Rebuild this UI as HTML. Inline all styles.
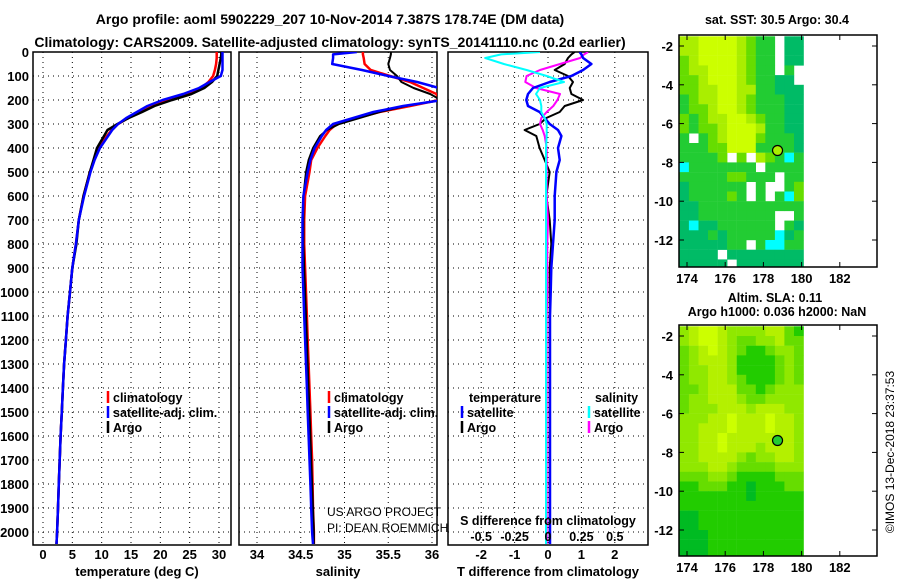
<!DOCTYPE html>
<html><head><meta charset="utf-8"><style>
html,body{margin:0;padding:0;background:#fff;}
svg{display:block;font-family:"Liberation Sans",sans-serif;}
</style></head><body>
<svg id="c" width="900" height="580" viewBox="0 0 900 580" xmlns="http://www.w3.org/2000/svg">
<defs>
<clipPath id="cp1"><rect x="33" y="52" width="198" height="493"/></clipPath>
<clipPath id="cp2"><rect x="239" y="52" width="198" height="493"/></clipPath>
<clipPath id="cp3"><rect x="448" y="52" width="200" height="493"/></clipPath>
<clipPath id="cm1"><rect x="679" y="35" width="198" height="232"/></clipPath>
<clipPath id="cm2"><rect x="679" y="325" width="198" height="231"/></clipPath>
</defs>
<g font-weight="bold" font-size="14">
<text x="330" y="24" text-anchor="middle">Argo profile: aoml 5902229_207 10-Nov-2014 7.387S 178.74E (DM data)</text>
<text x="330" y="47" text-anchor="middle">Climatology: CARS2009. Satellite-adjusted climatology: synTS_20141110.nc (0.2d earlier)</text>
</g>
<g id="root"></g>
</svg>
<script>
const NS="http://www.w3.org/2000/svg";
const depths=[0,10,25,50,75,100,125,150,175,200,225,250,275,300,325,350,400,450,500,600,700,800,900,1000,1100,1200,1300,1400,1500,1600,1700,1800,1900,2000,2050];
const tClim=[29.6,29.6,29.6,29.5,29.3,29,28.2,27,24.5,21,18.5,16.5,14.5,12.8,11.7,10.9,9.5,8.7,8.0,6.9,6.1,5.6,5.0,4.6,4.2,3.9,3.6,3.4,3.2,3.0,2.85,2.7,2.55,2.4,2.3];
const tSat=[30.6,30.6,30.6,30.6,30.6,30.3,28.4,26.6,23.9,20.4,17.8,16.0,14.2,12.8,11.8,11.1,9.7,8.8,8.1,7.0,6.1,5.6,5.0,4.6,4.2,3.9,3.6,3.4,3.2,3.0,2.85,2.7,2.55,2.4,2.3];
const tArgo=[30.4,30.4,30.3,30.1,29.9,29.7,28.8,27.5,25.3,22.0,19.0,16.9,14.6,12.7,11.0,10.4,9.2,8.6,8.0,6.9,6.1,5.7,5.0,4.6,4.2,3.9,3.6,3.4,3.2,3.0,2.85,2.7,2.55,2.4,2.3];
const sClim=[35.21,35.21,35.22,35.23,35.3,35.52,35.75,35.9,36.05,36.08,35.75,35.4,35.14,34.91,34.83,34.78,34.69,34.62,34.6,34.55,34.54,34.54,34.55,34.56,34.57,34.58,34.59,34.6,34.61,34.62,34.63,34.635,34.64,34.65,34.65];
const sSat=[35.14,34.87,34.87,34.86,35.2,35.5,35.83,36.08,36.15,36.12,35.67,35.33,35.1,34.87,34.79,34.74,34.66,34.61,34.58,34.53,34.52,34.52,34.52,34.53,34.54,34.55,34.56,34.57,34.58,34.59,34.6,34.61,34.62,34.63,34.64];
const sArgo=[35.53,35.53,35.52,35.5,35.52,35.6,35.65,35.79,35.98,36.1,35.7,35.4,35.17,34.94,34.8,34.72,34.64,34.59,34.56,34.53,34.53,34.53,34.54,34.55,34.56,34.57,34.58,34.59,34.6,34.61,34.62,34.63,34.64,34.65,34.65];
const dTArgo=[0.8,0.7,0.6,0.5,0.2,0.6,0.75,0.65,0.7,1.05,0.5,0.35,-0.05,-0.25,-0.7,-0.35,-0.25,-0.1,0.05,-0.05,0.05,0.1,0.05,0.05,0.05,0.05,0.05,0.05,0.05,0.05,0.05,0.05,0.05,0.05,0.05];
const dTSat=[0.95,1.0,1.05,1.3,1.05,0.7,0.05,-0.45,-0.6,-0.65,-0.6,-0.25,-0.1,0.05,0.3,0.4,0.3,0.35,0.25,0.2,0.2,0.15,0.1,0.08,0.06,0.06,0.06,0.06,0.06,0.06,0.06,0.06,0.06,0.06,0.06];
const dSArgo=[0.3,0.27,0.24,0.09,-0.06,-0.16,-0.17,-0.09,0.09,0.07,0.04,-0.01,-0.05,-0.06,-0.04,-0.025,-0.01,-0.01,-0.01,-0.01,0,-0.005,-0.005,-0.005,-0.01,-0.01,-0.01,-0.01,-0.01,-0.01,-0.01,-0.01,-0.01,-0.01,-0.01];
const dSSat=[-0.06,-0.35,-0.47,-0.33,-0.16,-0.01,0.12,-0.06,-0.09,-0.06,-0.05,-0.05,-0.025,-0.01,-0.01,-0.01,-0.015,-0.015,-0.015,-0.015,-0.015,-0.015,-0.015,-0.015,-0.015,-0.015,-0.015,-0.015,-0.015,-0.015,-0.015,-0.015,-0.015,-0.015,-0.015];
const depthTicks=[0,100,200,300,400,500,600,700,800,900,1000,1100,1200,1300,1400,1500,1600,1700,1800,1900,2000];
const tTicks=[0,5,10,15,20,25,30];
const sTicks=[34,34.5,35,35.5,36];
const sTickLabels=["34","34.5","35","35.5","36"];
const dTTicks=[-2,-1,0,1,2];
const dSTicks=[-0.5,-0.25,0,0.25,0.5];
const dSTickLabels=["-0.5","-0.25","0","0.25","0.5"];
const sstRows=["4455554322w11","4455554322w11","3455554322w11","3445554322w2w","334555432211w","3344554422111","2344554322211","2334554322211","3234455432211","3233455542211","2w23455532221","2223355522221","22223w3w432c2","c2222222w2222","2222233222w22","1222222w2ww23","1222232w2w2c3","1122222222222","1122222222ww2","1c11222222w21","1112122222c12","1111122w2cc22","1111w11111111","11111w1111111"];
const slaRows=["3455433334421","3455432233422","2345432112332","2344431111232","2334431111232","2334432111232","2234442212333","2334443223333","2333444344433","3334454445443","3344454445443","3344544444443","3344544434443","3344443233443","3334432222333","2223321111222","1122211011122","1111111011111","1111111111111","0011111111111","0011111111111","0001111111111","0001111111111","0001111111111"];
const lonTicks=[174,176,178,180,182];
const latTicks=[-2,-4,-6,-8,-10,-12];
const argoLon=178.74, argoLat=-7.387;

const root=document.getElementById('root');
function mk(tag,attrs,parent){const e=document.createElementNS(NS,tag);for(const k in attrs)e.setAttribute(k,attrs[k]);(parent||root).appendChild(e);return e;}
function txt(x,y,s,attrs,parent){const e=mk('text',Object.assign({x:x,y:y},attrs||{}),parent);e.textContent=s;return e;}
const yD=d=>52+0.24*d;
const xT=t=>43+t*5.8667;
const xS=s=>257+(s-34)*87.5;
const xDT=v=>548+v*33.4;
const xDS=v=>548+v*133.6;

function panel(x0,x1,xTicks,xf,labels,name,clip){
  const g=mk('g',{});
  
  
  xTicks.forEach(t=>{const l=mk('line',{x1:xf(t),x2:xf(t),y1:52,y2:545,stroke:'#000','stroke-dasharray':'1,4','stroke-width':1},g);
    });
  depthTicks.forEach(d=>{const l=mk('line',{x1:x0,x2:x1,y1:yD(d),y2:yD(d),stroke:'#000','stroke-dasharray':'1,4','stroke-width':1},g);
    });
  const r=mk('rect',{x:x0,y:52,width:x1-x0,height:493,fill:'none',stroke:'#000','stroke-width':1.5},g);
  
  if(labels){xTicks.forEach((t,i)=>{const e=txt(xf(t),559,labels[i],{'text-anchor':'middle','font-size':13,'font-weight':'bold'},g);
    });}
  return g;
}
function series(vals,xf,color,w,clip,name){
  const pts=vals.map((v,i)=>xf(v).toFixed(1)+','+yD(depths[i]).toFixed(1)).join(' ');
  const p=mk('polyline',{points:pts,fill:'none',stroke:color,'stroke-width':w,'clip-path':'url(#'+clip+')','stroke-linejoin':'round'});
  
}
// depth labels
depthTicks.forEach(d=>{const e=txt(29,yD(d)+5,String(d),{'text-anchor':'end','font-size':13,'font-weight':'bold'});
  });

panel(33,231,tTicks,xT,tTicks.map(String),'temperature-panel');
panel(239,437,sTicks,xS,sTickLabels,'salinity-panel');
panel(448,648,dTTicks,xDT,dTTicks.map(String),'difference-panel');

series(tClim,xT,'#ff0000',2.5,'cp1','temperature-climatology-line');
series(tArgo,xT,'#000000',2.5,'cp1','temperature-argo-line');
series(tSat,xT,'#0000ff',2.5,'cp1','temperature-satellite-line');
series(sClim,xS,'#ff0000',2.5,'cp2','salinity-climatology-line');
series(sArgo,xS,'#000000',2,'cp2','salinity-argo-line');
series(sSat,xS,'#0000ff',2.5,'cp2','salinity-satellite-line');
series(dTArgo,xDT,'#000000',2,'cp3','t-diff-argo-line');
series(dSArgo,xDS,'#ff00ff',2,'cp3','s-diff-argo-line');
series(dTSat,xDT,'#0000ff',2.5,'cp3','t-diff-satellite-line');
series(dSSat,xDS,'#00ffff',2,'cp3','s-diff-satellite-line');

// axis titles
[[137,'temperature (deg C)','x-axis-title-temperature'],[338,'salinity','x-axis-title-salinity'],[548,'T difference from climatology','x-axis-title-t-difference']].forEach(a=>{
  const e=txt(a[0],576,a[1],{'text-anchor':'middle','font-size':13,'font-weight':'bold'});
  });

// legends
function leg(x,y,color,label,name){
  const l=mk('line',{x1:x,x2:x,y1:y-11,y2:y+1,stroke:color,'stroke-width':2.5});
  
  const t=txt(x+5,y,label,{'font-size':12.5,'font-weight':'bold'});
  
}
leg(108,402,'#ff0000','climatology','legend-climatology');
leg(108,417,'#0000ff','satellite-adj. clim.','legend-satellite-adj');
leg(108,432,'#000000','Argo','legend-argo');
leg(329,402,'#ff0000','climatology','legend-climatology-2');
leg(329,417,'#0000ff','satellite-adj. clim.','legend-satellite-adj-2');
leg(329,432,'#000000','Argo','legend-argo-2');
{const e=txt(469,402,'temperature',{'font-size':12.5,'font-weight':'bold'});}
{const e=txt(595,402,'salinity',{'font-size':12.5,'font-weight':'bold'});}
leg(462,417,'#0000ff','satellite','legend-t-satellite');
leg(462,432,'#000000','Argo','legend-t-argo');
leg(589,417,'#00ffff','satellite','legend-s-satellite');
leg(589,432,'#ff00ff','Argo','legend-s-argo');
{const e=txt(548,525,'S difference from climatology',{'text-anchor':'middle','font-size':12.5,'font-weight':'bold'});}
dSTicks.forEach((v,i)=>{const e=txt(xDS(v),541,dSTickLabels[i],{'text-anchor':'middle','font-size':12.5,'font-weight':'bold'});
  });
{const e=txt(327,516,'US ARGO PROJECT',{'font-size':12});}
{const e=txt(327,532,'PI: DEAN ROEMMICH',{'font-size':12});}

// maps
const sstCol={'5':'#ccff00','4':'#aaee00','3':'#66dd00','2':'#22cc33','1':'#00bb66','c':'#00ffff'};
const slaCol={'5':'#ccff00','4':'#b4f000','3':'#90e800','2':'#66dd00','1':'#22cc00','0':'#00bb22'};
const lonX=l=>687+(l-174)*19.1;
function drawMap(rows,cols,y0,top,bot,clip,name,circFill){
  const latY=la=>y0+(-2-la)*19.4;
  const g=mk('g',{'clip-path':'url(#'+clip+')'});
  
  rows.forEach((row,j)=>{for(let i=0;i<row.length;i++){const c=cols[row[i]];if(!c)continue;
    const lo=173.6+0.5*i,la=-1.5-0.5*j;
    const r=mk('rect',{x:lonX(lo).toFixed(1),y:latY(la).toFixed(1),width:9.8,height:9.9,fill:c},g);
    }});
  const f=mk('rect',{x:679,y:top,width:198,height:bot-top,fill:'none',stroke:'#000','stroke-width':1.5});
  
  latTicks.forEach(la=>{const y=latY(la);
    mk('line',{x1:679,x2:684,y1:y,y2:y,stroke:'#000'});mk('line',{x1:872,x2:877,y1:y,y2:y,stroke:'#000'});
    const e=txt(673,y+5,String(la),{'text-anchor':'end','font-size':13,'font-weight':'bold'});
    });
  lonTicks.forEach(lo=>{const x=lonX(lo);
    mk('line',{x1:x,x2:x,y1:bot,y2:bot-5,stroke:'#000'});mk('line',{x1:x,x2:x,y1:top,y2:top+5,stroke:'#000'});
    const e=txt(x,bot+16,String(lo),{'text-anchor':'middle','font-size':13,'font-weight':'bold'});
    });
  const c=mk('circle',{cx:lonX(argoLon),cy:latY(argoLat),r:5,fill:circFill,stroke:'#000','stroke-width':1.2});
  
}
drawMap(sstRows,sstCol,46,35,267,'cm1','sst-map','#aaee00');
drawMap(slaRows,slaCol,336,325,556,'cm2','sla-map','#22cc33');
{const e=txt(777,24,'sat. SST: 30.5 Argo: 30.4',{'text-anchor':'middle','font-size':12.5,'font-weight':'bold'});}
{const e=txt(775,302,'Altim. SLA: 0.11',{'text-anchor':'middle','font-size':12.5,'font-weight':'bold'});}
{const e=txt(777,316,'Argo h1000: 0.036 h2000: NaN',{'text-anchor':'middle','font-size':12.5,'font-weight':'bold'});}
{const e=txt(0,0,'©IMOS 13-Dec-2018 23:37:53',{'text-anchor':'middle','font-size':12,transform:'translate(894,452) rotate(-90)'});}
</script>
</body></html>
